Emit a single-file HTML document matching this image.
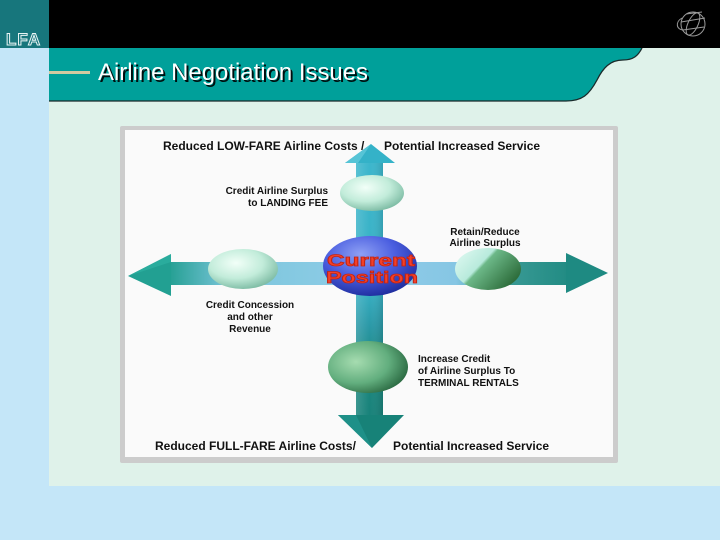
<!DOCTYPE html>
<html><head><meta charset="utf-8"><style>
html,body{margin:0;padding:0;}
body{width:720px;height:540px;overflow:hidden;background:#c4e6f8;font-family:"Liberation Sans",Arial,sans-serif;}
svg{display:block;}
</style></head><body>
<svg width="720" height="540" viewBox="0 0 720 540" xmlns="http://www.w3.org/2000/svg" font-family="Liberation Sans, Arial, sans-serif">
<defs>
  <radialGradient id="mint" cx="40%" cy="35%" r="70%">
    <stop offset="0" stop-color="#f2fff8"/>
    <stop offset="0.55" stop-color="#c2ecda"/>
    <stop offset="1" stop-color="#78b8a0"/>
  </radialGradient>
  <radialGradient id="green" cx="35%" cy="40%" r="75%">
    <stop offset="0" stop-color="#a6dcb0"/>
    <stop offset="0.55" stop-color="#62ae7e"/>
    <stop offset="1" stop-color="#1e5a34"/>
  </radialGradient>
  <linearGradient id="rightEl" x1="0" y1="0" x2="1" y2="0.6">
    <stop offset="0" stop-color="#e4fbf4"/>
    <stop offset="0.45" stop-color="#b8eadc"/>
    <stop offset="0.5" stop-color="#6cb888"/>
    <stop offset="1" stop-color="#2e6e3c"/>
  </linearGradient>
  <radialGradient id="blue" cx="40%" cy="30%" r="75%">
    <stop offset="0" stop-color="#8ea0f4"/>
    <stop offset="0.5" stop-color="#4a5ee0"/>
    <stop offset="1" stop-color="#1c2a9a"/>
  </radialGradient>
  <linearGradient id="hshaft" x1="170" y1="0" x2="567" y2="0" gradientUnits="userSpaceOnUse">
    <stop offset="0" stop-color="#26a094"/>
    <stop offset="0.15" stop-color="#7cc6dc"/>
    <stop offset="0.5" stop-color="#90cde8"/>
    <stop offset="0.72" stop-color="#86c6e4"/>
    <stop offset="0.82" stop-color="#3e9c98"/>
    <stop offset="1" stop-color="#228c84"/>
  </linearGradient>
  <linearGradient id="vshaft" x1="0" y1="163" x2="0" y2="415" gradientUnits="userSpaceOnUse">
    <stop offset="0" stop-color="#3cb6cc"/>
    <stop offset="0.5" stop-color="#38b0c4"/>
    <stop offset="0.65" stop-color="#2a98a6"/>
    <stop offset="0.8" stop-color="#1c8880"/>
    <stop offset="1" stop-color="#18827a"/>
  </linearGradient>
  <linearGradient id="vshade" x1="356" y1="0" x2="383" y2="0" gradientUnits="userSpaceOnUse">
    <stop offset="0" stop-color="#ffffff" stop-opacity="0.15"/>
    <stop offset="0.5" stop-color="#ffffff" stop-opacity="0"/>
    <stop offset="1" stop-color="#000000" stop-opacity="0.12"/>
  </linearGradient>
</defs>

<!-- background blocks -->
<rect x="0" y="0" width="49" height="48" fill="#17767c"/>
<rect x="49" y="0" width="671" height="48" fill="#000"/>
<rect x="49" y="48" width="671" height="438" fill="#dff2ea"/>
<path d="M49 48 L642 48 C638 56 633 60 623 60 C610 60 603 68 597 80 C589 95 582 101 566 101 L49 101 Z" fill="#00a09a"/>
<path d="M642 48 C638 56 633 60 623 60 C610 60 603 68 597 80 C589 95 582 101 566 101 L49 101" fill="none" stroke="#1a2a2a" stroke-width="1.3"/>

<!-- LFA logo -->
<text x="6" y="45" font-size="17" font-weight="bold" fill="#17767c" stroke="#e8f4f4" stroke-width="1" letter-spacing="1">LFA</text>

<!-- globe -->
<g fill="none" stroke="#9a9a9a" stroke-width="1">
  <circle cx="693" cy="24" r="12"/>
  <ellipse cx="693" cy="24" rx="5" ry="12" transform="rotate(25 693 24)"/>
  <line x1="681" y1="22" x2="705" y2="18"/>
  <line x1="683" y1="30" x2="704" y2="27"/>
  <line x1="686" y1="14" x2="702" y2="12"/>
  <path d="M682 18 C675 22 676 30 684 30"/>
</g>

<!-- title -->
<rect x="49" y="71" width="41" height="3" fill="#d2caa0"/>
<text x="100" y="82" font-size="24" fill="#000" opacity="0.9" textLength="270" lengthAdjust="spacingAndGlyphs">Airline Negotiation Issues</text>
<text x="98" y="80" font-size="24" fill="#ffffff" textLength="270" lengthAdjust="spacingAndGlyphs">Airline Negotiation Issues</text>

<!-- diagram box -->
<rect x="120" y="126" width="498" height="337" fill="#cccccc" rx="2"/>
<rect x="125" y="130" width="488" height="327" fill="#fafafa"/>

<!-- horizontal arrow -->
<rect x="169" y="262" width="398" height="23" fill="url(#hshaft)"/>
<polygon points="128,276 171,254 171,296" fill="#22a092"/>
<polygon points="128,276 171,254 171,262" fill="#2eb0a2" opacity="0.7"/>
<polygon points="566,253 608,273 566,293" fill="#1e8a82"/>

<!-- vertical arrow -->
<rect x="356" y="162" width="27" height="254" fill="url(#vshaft)"/>
<rect x="356" y="162" width="27" height="254" fill="url(#vshade)"/>
<polygon points="371,144 395,163 345,163" fill="#34b2c8"/>
<polygon points="371,144 345,163 358,163" fill="#56c4d6"/>
<polygon points="338,415 404,415 372,448" fill="#178278"/>
<polygon points="338,415 356,415 372,448" fill="#1e9088"/>

<!-- ellipses -->
<ellipse cx="372" cy="193" rx="32" ry="18" fill="url(#mint)"/>
<ellipse cx="243" cy="269" rx="35" ry="20" fill="url(#mint)"/>
<ellipse cx="488" cy="269" rx="33" ry="21" fill="url(#rightEl)"/>
<ellipse cx="368" cy="367" rx="40" ry="26" fill="url(#green)"/>
<ellipse cx="370" cy="266" rx="47" ry="30" fill="url(#blue)"/>

<!-- current position -->
<g font-weight="bold" font-size="17" fill="#f2402a" stroke="#c42412" stroke-width="0.8">
  <text x="327" y="266" textLength="88" lengthAdjust="spacingAndGlyphs">Current</text>
  <text x="326" y="283" textLength="92" lengthAdjust="spacingAndGlyphs">Position</text>
</g>

<!-- labels -->
<g font-weight="bold" fill="#111">
  <text x="163" y="150" font-size="12">Reduced LOW-FARE Airline Costs /</text>
  <text x="384" y="150" font-size="12">Potential Increased Service</text>
  <text x="155" y="450" font-size="12">Reduced FULL-FARE Airline Costs/</text>
  <text x="393" y="450" font-size="12">Potential Increased Service</text>

  <g font-size="10" text-anchor="end">
    <text x="328" y="194">Credit Airline Surplus</text>
    <text x="328" y="206">to LANDING FEE</text>
  </g>
  <g font-size="10" text-anchor="middle">
    <text x="485" y="235">Retain/Reduce</text>
    <text x="485" y="246">Airline Surplus</text>
    <text x="250" y="308">Credit Concession</text>
    <text x="250" y="320">and other</text>
    <text x="250" y="332">Revenue</text>
  </g>
  <g font-size="10">
    <text x="418" y="362">Increase Credit</text>
    <text x="418" y="374">of Airline Surplus To</text>
    <text x="418" y="386">TERMINAL RENTALS</text>
  </g>
</g>
</svg>
</body></html>
